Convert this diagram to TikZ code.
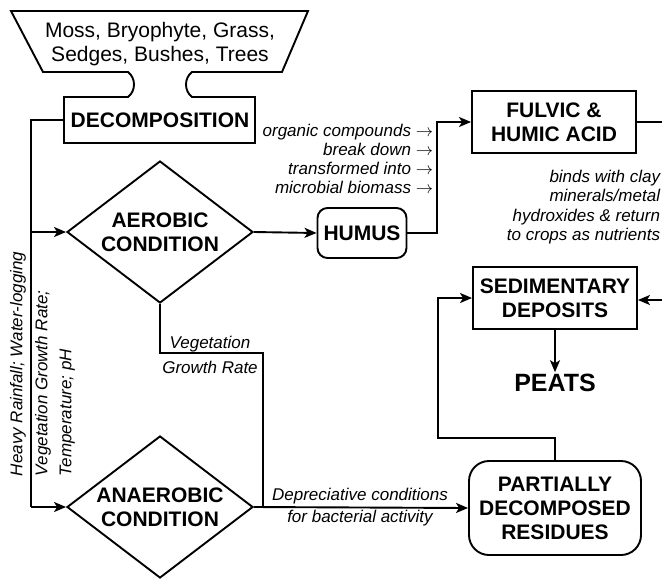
\documentclass[tikz,border=0pt]{standalone}
\usepackage{fontspec}
\setmainfont{Liberation Sans}
\usetikzlibrary{shapes.geometric,arrows.meta}
\begin{document}
\begin{tikzpicture}[x=1pt,y=-1pt,line width=1.9pt,
  >={Stealth[length=12pt,width=10pt,inset=3pt]},
  boxtxt/.style={font=\bfseries\fontsize{21}{24}\selectfont,align=center,inner sep=0pt},
  box/.style={boxtxt,draw},
  rbox/.style={boxtxt,draw,rounded corners=#1},
  dia/.style={boxtxt,draw,diamond,aspect=1.31,minimum width=186pt,minimum height=142pt},
  lbl/.style={font=\itshape\fontsize{17}{19.2}\selectfont,inner sep=0pt}]
\useasboundingbox (0,0) rectangle (662,579);

% funnel + decomposition outline
\draw (128,72) -- (43,72) -- (11,11) -- (308,11) -- (282,72) -- (192,72)
  .. controls (184,78) and (184,91) .. (192,97) -- (255,97) -- (255,143)
  -- (64,143) -- (64,97) -- (128,97)
  .. controls (136,91) and (136,78) .. (128,72) -- cycle;
\node[font=\fontsize{21}{24}\selectfont,align=center,inner sep=0pt] (plants) at (160,44) {Moss, Bryophyte, Grass,\\Sedges, Bushes, Trees};
\node[boxtxt,minimum width=191pt,minimum height=46pt] (dec) at (160,120) {DECOMPOSITION};

\node[dia] (aer) at (160,232) {AEROBIC\\CONDITION};
\node[dia] (ana) at (160,507) {ANAEROBIC\\CONDITION};
\node[rbox=10pt,minimum width=89pt,minimum height=50pt] (humus) at (362,233) {HUMUS};
\node[box,minimum width=164pt,minimum height=62pt] (fulvic) at (554,122) {FULVIC \&\\HUMIC ACID};
\node[box,minimum width=164pt,minimum height=62pt] (sed) at (555,298) {SEDIMENTARY\\DEPOSITS};
\node[font=\bfseries\fontsize{25}{28}\selectfont,inner sep=1pt] (peats) at (555,383) {PEATS};
\node[rbox=20pt,minimum width=172pt,minimum height=94pt] (partial) at (555,508) {PARTIALLY\\DECOMPOSED\\RESIDUES};

% labels
\node[lbl,rotate=90,anchor=west] (rain) at (18,477) {Heavy Rainfall; Water-logging};
\node[lbl,rotate=90,anchor=west,align=left,font=\itshape\fontsize{17}{24}\selectfont] (vegt) at (55,477) {Vegetation Growth Rate;\\Temperature; pH};
\node[lbl,align=right,anchor=east] (org) at (434,159) {organic compounds $\rightarrow$\\break down $\rightarrow$\\transformed into $\rightarrow$\\microbial biomass $\rightarrow$};
\node[lbl,align=right,anchor=east] (binds) at (661,207) {binds with clay\\minerals/metal\\hydroxides \& return\\to crops as nutrients};
\node[lbl,align=center,font=\itshape\fontsize{17}{25}\selectfont] (vgr) at (210,355) {Vegetation\\Growth Rate};
\node[lbl,align=center,font=\itshape\fontsize{17}{22}\selectfont] (dep) at (360,507) {Depreciative conditions\\for bacterial activity};

% connectors
\coordinate (t1) at (31,120);
\coordinate (t2) at (31,232);
\coordinate (t3) at (31,507);
\coordinate (hb) at (437,122);
\coordinate (vg) at (263,353);
\coordinate (j) at (263,507);
\coordinate (pl) at (438,438);
\coordinate (e1) at (665,122);
\coordinate (e2) at (665,300);

\draw (dec.west) -- (t1) -- (t3);
\draw[->] (t2) -- (aer.west);
\draw[->] (t3) -- (ana.west);
\draw[->] (aer.east) -- (humus.west);
\draw[->] (humus.east) -| (hb) -- (fulvic.west);
\draw (aer.south) |- (vg) -- (j);
\draw[->] (ana.east) -- (partial.west);
\draw[->] (sed.south) -- (peats.north);
\draw[->] (partial.north) |- (pl) |- (sed.west);
\draw (fulvic.east) -- (e1);
\draw[->] (e2) -- (sed.east |- e2);
\end{tikzpicture}
\end{document}
